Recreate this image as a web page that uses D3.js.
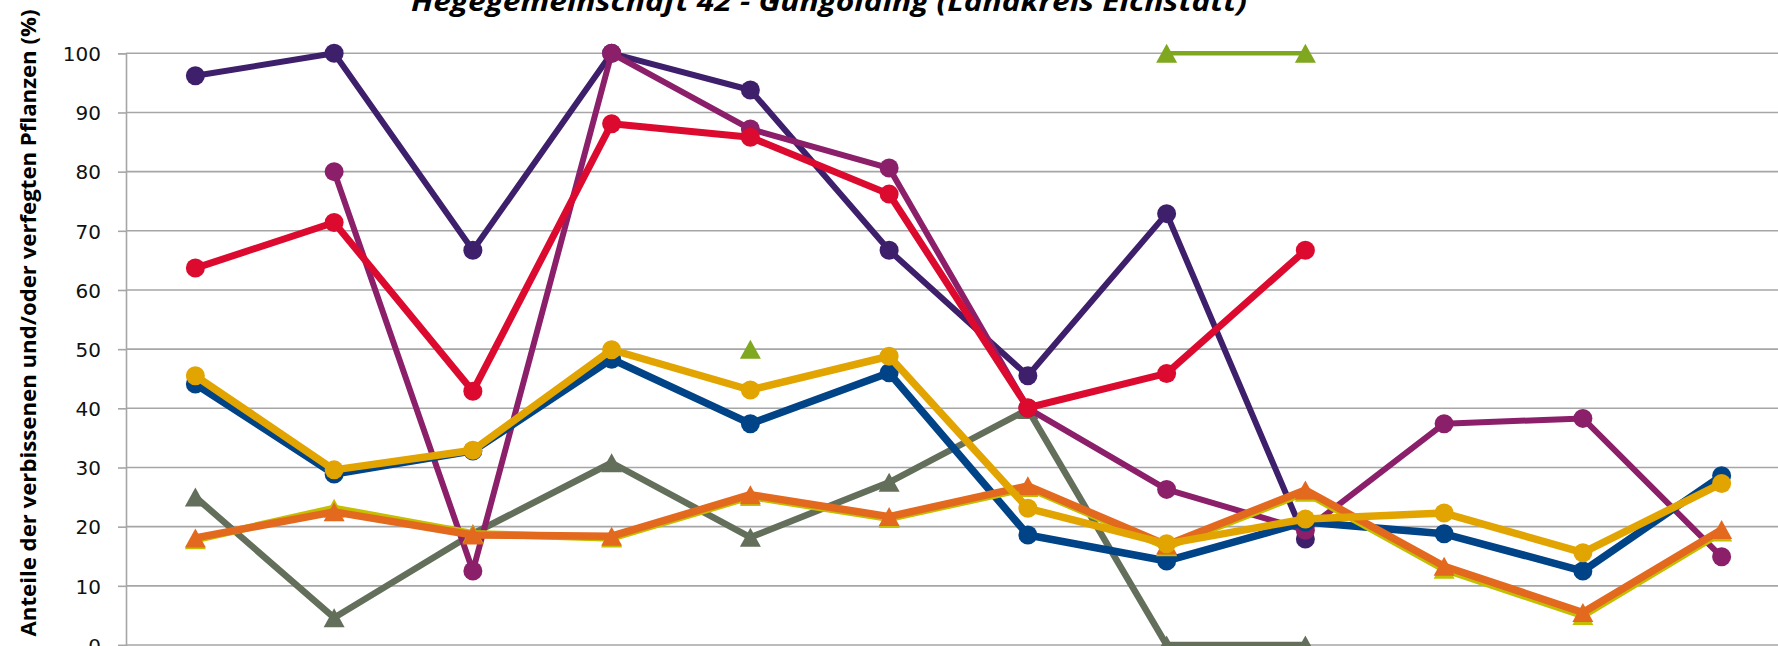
<!DOCTYPE html>
<html>
<head>
<meta charset="utf-8">
<script src="https://cdn.jsdelivr.net/npm/d3@7"></script>
<style>
  html, body { margin: 0; padding: 0; background: #ffffff; overflow: hidden; }
  svg { display: block; }
</style>
</head>
<body>
<svg id="chart" width="1778" height="646"></svg>
<script>
// ---- data ----
const categories = ["1991", "1994", "1997", "2000", "2003", "2006", "2009", "2012", "2015", "2018", "2021", "2024"];
const yTicks = [0, 10, 20, 30, 40, 50, 60, 70, 80, 90, 100];
const titleText = "Hegegemeinschaft 42 - Gungolding (Landkreis Eichstätt)";
const yAxisTitle = "Anteile der verbissenen und/oder verfegten Pflanzen (%)";

const seriesGray        = [25.0, 4.6, 18.8, 30.8, 18.2, 27.5, 39.8, 0, 0, null, null, null];
const seriesDarkPurple  = [96.2, 100, 66.7, 100, 93.8, 66.7, 45.5, 72.9, 17.9, null, null, null];
const seriesMagenta     = [null, 80.0, 12.5, 100, 87.2, 80.6, 40.0, 26.3, 19.4, 37.4, 38.3, 14.9];
const seriesRed         = [63.7, 71.4, 42.9, 88.1, 85.8, 76.2, 40.1, 45.9, 66.7, null, null, null];
const seriesBlue        = [44.1, 28.9, 32.8, 48.3, 37.4, 46.0, 18.6, 14.2, 20.8, 18.8, 12.5, 28.6];
const seriesYellowGreen = [17.8, 23.1, 18.8, 18.1, 25.1, 21.4, 26.6, 16.6, 25.8, 12.8, 5.0, 19.1];
const seriesOrange      = [18.1, 22.5, 18.6, 18.4, 25.4, 21.7, 26.9, 16.9, 26.2, 13.3, 5.5, 19.5];
const seriesGold        = [45.5, 29.6, 32.9, 49.9, 43.1, 48.8, 23.1, 17.1, 21.3, 22.3, 15.6, 27.3];
const seriesGreen       = [null, null, null, null, 50, null, null, 100, 100, null, null, null];

const seriesList = [
  { values: seriesGray,        color: "#636f5a", width: 6.5, marker: "triangle" },
  { values: seriesDarkPurple,  color: "#3d1f6b", width: 6,   marker: "circle" },
  { values: seriesMagenta,     color: "#8c1f6a", width: 6,   marker: "circle" },
  { values: seriesRed,         color: "#dc0a2f", width: 7,   marker: "circle" },
  { values: seriesBlue,        color: "#004386", width: 7.5, marker: "circle" },
  { values: seriesYellowGreen, color: "#c4bf00", width: 7.5, marker: "triangle" },
  { values: seriesOrange,      color: "#e3691f", width: 7.5, marker: "triangle" },
  { values: seriesGold,        color: "#e2a400", width: 7.5, marker: "circle" },
  { values: seriesGreen,       color: "#7fa71f", width: 4.5, marker: "triangle" }
];

// ---- layout ----
const svg = d3.select("#chart");
const W = 1778, H = 646;
const plot = { left: 126, right: 1791, top: 53.3, bottom: 645 };

const x = d3.scaleBand().domain(categories).range([plot.left, plot.right]).padding(0);
const xc = c => x(c) + x.bandwidth() / 2;
const y = d3.scaleLinear().domain([0, 100]).range([plot.bottom, plot.top]);

// gridlines
svg.append("g").selectAll("line").data(yTicks).join("line")
  .attr("x1", plot.left).attr("x2", W)
  .attr("y1", d => y(d)).attr("y2", d => y(d))
  .attr("stroke", "#a6a6a6").attr("stroke-width", 1.6);

// y axis
const yAxis = d3.axisLeft(y).tickValues(yTicks).tickSize(8).tickPadding(17).tickFormat(d3.format("d"));
const gAxis = svg.append("g").attr("transform", `translate(${plot.left},0)`).call(yAxis);
gAxis.select(".domain").attr("stroke", "#a6a6a6").attr("stroke-width", 1.6);
gAxis.selectAll(".tick line").attr("stroke", "#a6a6a6").attr("stroke-width", 1.6);
gAxis.selectAll(".tick text")
  .attr("font-family", "'DejaVu Sans', sans-serif")
  .attr("font-size", 20)
  .attr("fill", "#111111")
  .attr("dy", "0.36em");

// series
const line = d3.line()
  .defined(d => d.v != null)
  .x(d => xc(d.c))
  .y(d => y(d.v));

const triPath = (cx, cy) => {
  const hw = 10.5, hh = 9.5;
  return `M${cx},${cy - hh}L${cx + hw},${cy + hh}L${cx - hw},${cy + hh}Z`;
};

seriesList.forEach(s => {
  const pts = categories.map((c, i) => ({ c, v: s.values[i] }));
  const g = svg.append("g");
  g.append("path")
    .attr("d", line(pts))
    .attr("fill", "none")
    .attr("stroke", s.color)
    .attr("stroke-width", s.width)
    .attr("stroke-linejoin", "round")
    .attr("stroke-linecap", "butt");
  const valid = pts.filter(d => d.v != null);
  if (s.marker === "circle") {
    g.selectAll("circle").data(valid).join("circle")
      .attr("cx", d => xc(d.c)).attr("cy", d => y(d.v))
      .attr("r", 9.5).attr("fill", s.color);
  } else {
    g.selectAll("path.m").data(valid).join("path")
      .attr("class", "m")
      .attr("d", d => triPath(xc(d.c), y(d.v)))
      .attr("fill", s.color);
  }
});

// title
svg.append("text")
  .attr("x", 829).attr("y", 11)
  .attr("text-anchor", "middle")
  .attr("font-family", "'Open Sans', 'Noto Sans', sans-serif")
  .attr("font-weight", "bold")
  .attr("font-style", "italic")
  .attr("font-size", 26)
  .attr("fill", "#000000")
  .attr("textLength", 836)
  .attr("lengthAdjust", "spacingAndGlyphs")
  .text(titleText);

// y-axis title
svg.append("text")
  .attr("transform", `translate(36,${323}) rotate(-90)`)
  .attr("text-anchor", "middle")
  .attr("font-family", "'Open Sans', 'Noto Sans', sans-serif")
  .attr("font-weight", "bold")
  .attr("font-size", 21)
  .attr("fill", "#000000")
  .attr("textLength", 627)
  .attr("lengthAdjust", "spacingAndGlyphs")
  .text(yAxisTitle);
</script>
</body>
</html>
